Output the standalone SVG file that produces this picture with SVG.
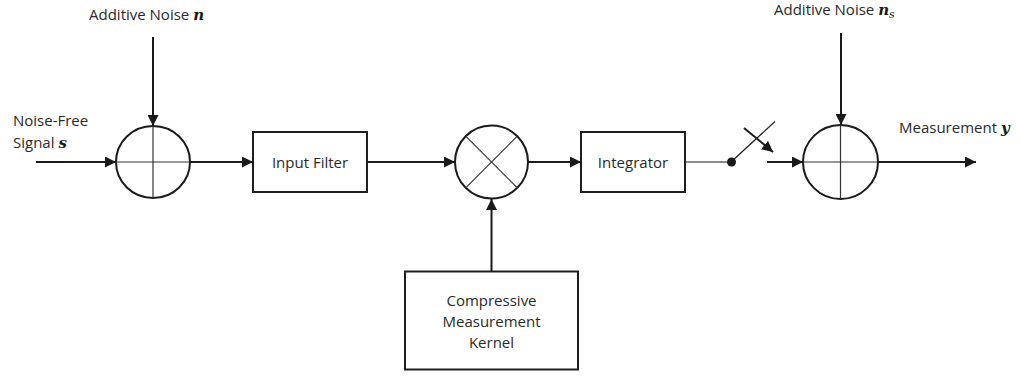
<svg xmlns="http://www.w3.org/2000/svg" width="1021" height="377" viewBox="0 0 1021 377">
  <defs>
    <marker id="arrow" viewBox="0 0 10 10" refX="10" refY="5" markerWidth="11" markerHeight="11" markerUnits="userSpaceOnUse" orient="auto">
      <path d="M0,0 L10,5 L0,10 z" fill="#1a1a1a"/>
    </marker>
    <style>
      .lbl { font-family: "Open Sans", "Liberation Sans", sans-serif; font-size: 15px; fill: #2a2a2a; }
      .math { font-family: "DejaVu Serif", "Liberation Serif", serif; font-style: italic; font-weight: bold; font-size: 15px; fill: #1a1a1a; }
      .sub { font-size: 11px; font-weight: normal; }
      .box { fill: #ffffff; stroke: #1f1f1f; stroke-width: 2; }
      .ring { fill: #ffffff; stroke: #1a1a1a; stroke-width: 2; }
      .hair { stroke: #333333; stroke-width: 1.2; fill: none; }
      .wire { stroke: #1a1a1a; stroke-width: 2; fill: none; }
      .thin { stroke: #1a1a1a; stroke-width: 1.2; fill: none; }
    </style>
  </defs>

  <!-- signal path connectors -->
  <g id="connectors">
    <line class="wire" x1="36" y1="162" x2="116" y2="162" marker-end="url(#arrow)"/>
    <line class="wire" x1="153" y1="37" x2="153" y2="126" marker-end="url(#arrow)"/>
    <line class="wire" x1="190" y1="162" x2="253" y2="162" marker-end="url(#arrow)"/>
    <line class="wire" x1="367" y1="162" x2="455" y2="162" marker-end="url(#arrow)"/>
    <line class="wire" x1="491.5" y1="271" x2="491.5" y2="199" marker-end="url(#arrow)"/>
    <line class="wire" x1="528" y1="162" x2="581" y2="162" marker-end="url(#arrow)"/>
    <line class="thin" x1="685" y1="162" x2="731" y2="162"/>
    <line class="wire" x1="767" y1="162" x2="803" y2="162" marker-end="url(#arrow)"/>
    <line class="wire" x1="841" y1="33" x2="841" y2="125" marker-end="url(#arrow)"/>
    <line class="wire" x1="878" y1="162" x2="976" y2="162" marker-end="url(#arrow)"/>
  </g>

  <!-- sampling switch -->
  <g id="switch">
    <line class="thin" x1="731" y1="162" x2="775" y2="121.5"/>
    <circle cx="731.5" cy="162" r="4.5" fill="#1a1a1a"/>
    <line class="wire" x1="744" y1="128" x2="773" y2="152" marker-end="url(#arrow)"/>
  </g>

  <!-- first summing junction -->
  <g id="sum1">
    <ellipse class="ring" cx="153" cy="162" rx="37" ry="36"/>
    <line class="hair" x1="153" y1="126" x2="153" y2="198"/>
    <line class="hair" x1="116" y1="162" x2="190" y2="162"/>
  </g>

  <g id="input-filter">
    <rect class="box" x="253" y="132" width="114" height="60"/>
    <text class="lbl" x="310" y="168" text-anchor="middle">Input Filter</text>
  </g>

  <!-- mixer -->
  <g id="mixer">
    <circle class="ring" cx="491.5" cy="162" r="36.5"/>
    <line class="hair" x1="465.7" y1="136.2" x2="517.3" y2="187.8"/>
    <line class="hair" x1="465.7" y1="187.8" x2="517.3" y2="136.2"/>
  </g>

  <g id="integrator">
    <rect class="box" x="581" y="132" width="104" height="60"/>
    <text class="lbl" x="633" y="168" text-anchor="middle">Integrator</text>
  </g>

  <!-- second summing junction -->
  <g id="sum2">
    <ellipse class="ring" cx="840.5" cy="162" rx="37.5" ry="37"/>
    <line class="hair" x1="840.5" y1="125" x2="840.5" y2="199"/>
    <line class="hair" x1="803" y1="162" x2="878" y2="162"/>
  </g>

  <g id="kernel">
    <rect class="box" x="405" y="271.5" width="173" height="98"/>
    <text class="lbl" x="491.5" y="306" text-anchor="middle">Compressive</text>
    <text class="lbl" x="491.5" y="327" text-anchor="middle">Measurement</text>
    <text class="lbl" x="491.5" y="348" text-anchor="middle">Kernel</text>
  </g>

  <!-- external labels -->
  <g id="noise-in">
    <text class="lbl" x="89" y="20">Additive Noise <tspan class="math">n</tspan></text>
  </g>
  <g id="signal-in">
    <text class="lbl" x="13" y="126">Noise-Free</text>
    <text class="lbl" x="13" y="148">Signal <tspan class="math">s</tspan></text>
  </g>
  <g id="noise-sample">
    <text class="lbl" x="774" y="15">Additive Noise <tspan class="math">n</tspan><tspan class="math sub" dy="3">s</tspan></text>
  </g>
  <g id="measurement-out">
    <text class="lbl" x="899" y="133">Measurement <tspan class="math">y</tspan></text>
  </g>
</svg>
